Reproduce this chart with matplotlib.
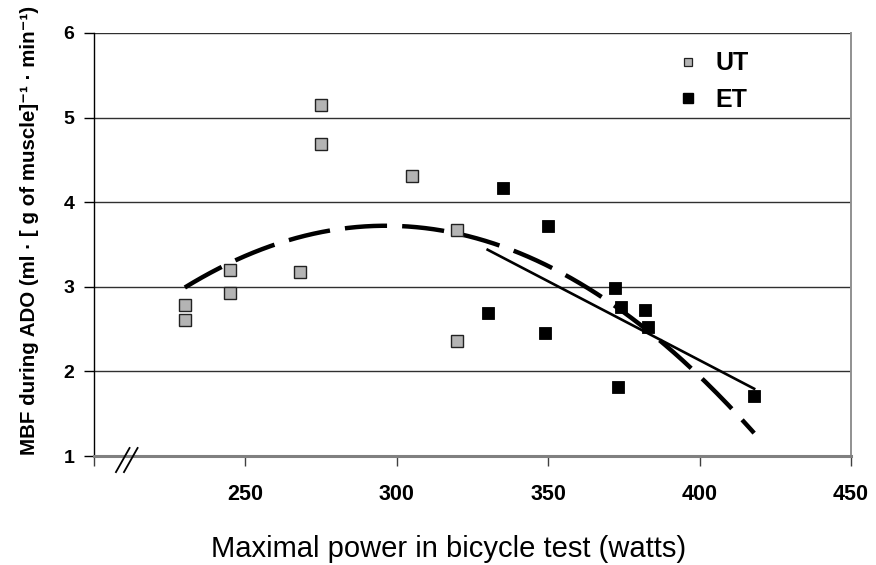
import numpy as np
import matplotlib
matplotlib.use("Agg")
import matplotlib.pyplot as plt
from matplotlib.lines import Line2D

plt.rcParams['font.family'] = ['Liberation Sans', 'DejaVu Sans']

# untrained (UT) and endurance-trained (ET) subjects
ut_power = [230, 230, 245, 245, 268, 275, 275, 305, 320, 320]
ut_mbf = [2.78, 2.61, 2.93, 3.20, 3.17, 5.15, 4.69, 4.31, 3.67, 2.36]

et_power = [335, 350, 330, 349, 372, 374, 382, 383, 373, 418]
et_mbf = [4.17, 3.72, 2.69, 2.45, 2.99, 2.76, 2.72, 2.53, 1.81, 1.71]

x_ticks = [200, 250, 300, 350, 400, 450]
x_tick_labels = ['', '250', '300', '350', '400', '450']
y_ticks = [1, 2, 3, 4, 5, 6]

fig = plt.figure(figsize=(8.76, 5.65), dpi=100)
ax = fig.add_axes([0.1073, 0.1929, 0.8642, 0.7487])

ax.set_xlim(200, 450)
ax.set_ylim(1, 6)

# horizontal grid
for yv in y_ticks[1:]:
    ax.axhline(yv, color='#303030', lw=1.0, zorder=1)

# quadratic trend through all subjects
all_x = np.array(ut_power + et_power, dtype=float)
all_y = np.array(ut_mbf + et_mbf, dtype=float)
xc = all_x.mean()
poly = np.polyfit(all_x - xc, all_y, 2)
xs = np.linspace(all_x.min(), all_x.max(), 200)
ax.plot(xs, np.polyval(poly, xs - xc), color='black', lw=3.2,
        linestyle=(0, (9.5, 3.4)), zorder=3)

# linear trend through ET only
ex = np.array(et_power, dtype=float)
ey = np.array(et_mbf, dtype=float)
lin = np.polyfit(ex, ey, 1)
lx = np.array([ex.min(), ex.max()])
ax.plot(lx, np.polyval(lin, lx), color='black', lw=1.9, zorder=3)

ax.plot(ut_power, ut_mbf, linestyle='none', marker='s', ms=8.2,
        mfc='#b4b4b4', mec='#222222', mew=1.0, zorder=4)
ax.plot(et_power, et_mbf, linestyle='none', marker='s', ms=8.6,
        mfc='black', mec='black', mew=0.6, zorder=4)

# spines
ax.spines['top'].set_visible(False)
ax.spines['left'].set_color('black')
ax.spines['left'].set_linewidth(1.0)
ax.spines['bottom'].set_color('#808080')
ax.spines['bottom'].set_linewidth(2.2)
ax.spines['right'].set_color('#909090')
ax.spines['right'].set_linewidth(1.4)

ax.set_xticks(x_ticks)
ax.set_xticklabels(x_tick_labels)
ax.set_yticks(y_ticks)
ax.tick_params(axis='x', direction='out', length=7, width=1.0, color='#404040',
               pad=13, labelsize=15.5)
ax.tick_params(axis='y', direction='out', length=7, width=1.0, color='black',
               pad=7, labelsize=14)
for lab in ax.get_xticklabels() + ax.get_yticklabels():
    lab.set_fontweight('bold')

# axis break marks
for dx in (0.0, 0.0106):
    ax.plot([0.029 + dx, 0.047 + dx], [-0.038, 0.019], color='black', lw=1.3,
            transform=ax.transAxes, clip_on=False, zorder=5)

fig.text(449 / 876, 0.0142, 'Maximal power in bicycle test (watts)',
         ha='center', va='baseline', fontsize=21)
fig.text(30 / 876, 1 - 230 / 565,
         'MBF during ADO (ml · [ g of muscle]⁻¹ · min⁻¹)',
         rotation=90, ha='center', va='center', fontsize=14.8, fontweight='bold')

handles = [
    Line2D([], [], linestyle='none', marker='s', ms=6.4, mfc='#b4b4b4',
           mec='#222222', mew=0.9),
    Line2D([], [], linestyle='none', marker='s', ms=6.6, mfc='black',
           mec='black'),
]
ax.legend(handles, ['UT', 'ET'], loc='upper left',
          bbox_to_anchor=(0.751, 0.986), frameon=False, borderpad=0,
          handlelength=1.0, handletextpad=0.62, labelspacing=0.5,
          prop={'weight': 'bold', 'size': 18})

fig.savefig('out.png', dpi=100)
